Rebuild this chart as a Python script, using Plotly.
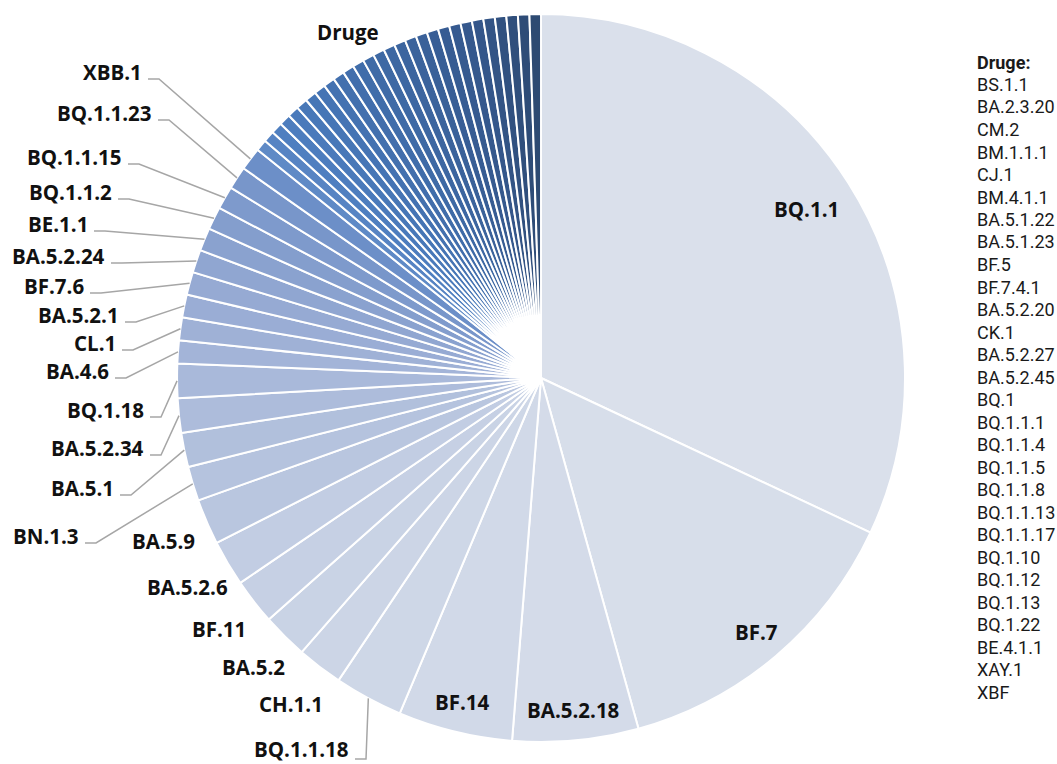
import math
import plotly.graph_objects as go

# ------------------------------------------------------------------ data
main_labels = ["BQ.1.1", "BF.7", "BA.5.2.18", "BF.14", "BQ.1.1.18", "CH.1.1", "BA.5.2",
               "BF.11", "BA.5.2.6", "BA.5.9", "BN.1.3", "BA.5.1", "BA.5.2.34", "BQ.1.18",
               "BA.4.6", "CL.1", "BA.5.2.1", "BF.7.6", "BA.5.2.24", "BE.1.1", "BQ.1.1.2",
               "BQ.1.1.15", "BQ.1.1.23", "XBB.1"]
main_values = [63, 27, 11, 10, 6, 4, 4, 4, 4, 4, 3, 3, 3, 3,
               2, 2, 2, 2, 2, 2, 2, 2, 2, 2]

other_title = "Druge"
other_labels = ["BS.1.1", "BA.2.3.20", "CM.2", "BM.1.1.1", "CJ.1", "BM.4.1.1", "BA.5.1.22",
                "BA.5.1.23", "BF.5", "BF.7.4.1", "BA.5.2.20", "CK.1", "BA.5.2.27", "BA.5.2.45",
                "BQ.1", "BQ.1.1.1", "BQ.1.1.4", "BQ.1.1.5", "BQ.1.1.8", "BQ.1.1.13", "BQ.1.1.17",
                "BQ.1.10", "BQ.1.12", "BQ.1.13", "BQ.1.22", "BE.4.1.1", "XAY.1", "XBF"]
other_values = [1, 1, 1, 1, 1, 1, 1, 1, 1, 1, 1, 1, 1, 1,
                1, 1, 1, 1, 1, 1, 1, 1, 1, 1, 1, 1, 1, 1]

# ------------------------------------------------------------------ layout / style
W, H = 1057, 764
DOM_X = [0.1675, 0.8562]
DOM_Y = [0.0288, 0.9817]

LABEL_FONT = dict(family="Open Sans, Noto Sans, sans-serif", size=20.5, color="#111111", weight="bold")
LIST_FONT = dict(family="Roboto, sans-serif", size=18, color="#1a1a1a")
LEADER_COLOR = "#a6a6a6"

# colour ramp anchors: (slice index, colour)
RAMP = [(0, "#dae0eb"), (3, "#d1d9e8"), (6, "#c9d3e5"), (8, "#c2cde3"), (9, "#b9c6df"),
        (13, "#a9b9da"), (14, "#a3b4d8"), (17, "#96aad3"), (19, "#8aa2cf"), (22, "#7896ca"),
        (23, "#6c8fc8"), (24, "#5f8ac6"), (26, "#4f7fc0"), (30, "#4676b6"), (38, "#3d67a2"),
        (46, "#34568a"), (51, "#2d4a72")]

# label placement
INSIDE = {"BQ.1.1": 0.865, "BF.7": 0.915, "BA.5.2.18": 0.915, "BF.14": 0.915}
NEAR = {"BA.5.9": 1.13, "BA.5.2.6": 1.13, "BF.11": 1.12, "BA.5.2": 1.12, "CH.1.1": 1.13}
# text right edge / vertical middle (px) for labels joined by a leader line
LEADER = {"XBB.1": (143, 72), "BQ.1.1.23": (153, 113), "BQ.1.1.15": (123, 157),
          "BQ.1.1.2": (113, 192), "BE.1.1": (89, 224), "BA.5.2.24": (106, 256),
          "BF.7.6": (85, 286), "BA.5.2.1": (120, 315), "CL.1": (117, 343),
          "BA.4.6": (110, 371), "BQ.1.18": (145, 410), "BA.5.2.34": (145, 448),
          "BA.5.1": (115, 488), "BN.1.3": (80, 536), "BQ.1.1.18": (350, 749)}
GROUP_LABEL_PX = (348, 32)
LIST_X_PX, LIST_Y0_PX, LIST_STEP_PX = 975, 62, 22.5


def hex2rgb(h):
    h = h.lstrip("#")
    return tuple(int(h[i:i + 2], 16) for i in (0, 2, 4))


def ramp_color(i):
    for (i0, c0), (i1, c1) in zip(RAMP[:-1], RAMP[1:]):
        if i0 <= i <= i1:
            t = 0 if i1 == i0 else (i - i0) / (i1 - i0)
            a, b = hex2rgb(c0), hex2rgb(c1)
            return "rgb(%d,%d,%d)" % tuple(round(a[k] + (b[k] - a[k]) * t) for k in range(3))
    return RAMP[-1][1]


all_labels = main_labels + other_labels
all_values = main_values + other_values
colors = [ramp_color(i) for i in range(len(all_labels))]

fig = go.Figure(go.Pie(
    labels=all_labels, values=all_values, sort=False, direction="clockwise", rotation=0,
    marker=dict(colors=colors, line=dict(color="white", width=2)),
    textinfo="none", hoverinfo="label+value+percent", showlegend=False,
    domain=dict(x=DOM_X, y=DOM_Y),
))

# pie geometry in pixels (derived from the domain)
CX = (DOM_X[0] + DOM_X[1]) / 2 * W
CY = (1 - (DOM_Y[0] + DOM_Y[1]) / 2) * H
R = min((DOM_X[1] - DOM_X[0]) * W, (DOM_Y[1] - DOM_Y[0]) * H) / 2
total = sum(all_values)


def px(x, y):
    return x / W, 1 - y / H


def polar(angle_deg, r):
    a = math.radians(angle_deg)
    return CX + r * math.sin(a), CY - r * math.cos(a)


annotations = []
shapes = []
cum = 0
for lab, val in zip(main_labels, main_values):
    mid = (cum + val / 2) / total * 360
    cum += val
    if lab in INSIDE or lab in NEAR:
        k = INSIDE.get(lab, NEAR.get(lab))
        x, y = polar(mid, R * k)
        xp, yp = px(x, y)
        annotations.append(dict(x=xp, y=yp, xref="paper", yref="paper", text=lab,
                                showarrow=False, xanchor="center", yanchor="middle",
                                font=LABEL_FONT))
    elif lab in LEADER:
        rx, my = LEADER[lab]
        xp, yp = px(rx, my)
        annotations.append(dict(x=xp, y=yp, xref="paper", yref="paper", text=lab,
                                showarrow=False, xanchor="right", yanchor="middle",
                                font=LABEL_FONT, borderpad=0))
        ex, ey = polar(mid, R)
        ly = my + 7 if lab != "BQ.1.1.18" else my + 10
        p0 = px(rx + 5, ly)
        p1 = px(rx + 16, ly)
        p2 = px(ex, ey)
        shapes.append(dict(type="path", xref="paper", yref="paper",
                           path="M %f,%f L %f,%f L %f,%f" % (p0 + p1 + p2),
                           line=dict(color=LEADER_COLOR, width=1.5)))

gx, gy = px(*GROUP_LABEL_PX)
annotations.append(dict(x=gx, y=gy, xref="paper", yref="paper", text=other_title,
                        showarrow=False, xanchor="center", yanchor="middle", font=LABEL_FONT))

# list of the grouped variants
list_lines = [other_title + ":"] + other_labels
for i, t in enumerate(list_lines):
    xp, yp = px(LIST_X_PX, LIST_Y0_PX + i * LIST_STEP_PX)
    f = dict(LIST_FONT)
    if i == 0:
        f["weight"] = "bold"
    annotations.append(dict(x=xp, y=yp, xref="paper", yref="paper", text=t,
                            showarrow=False, xanchor="left", yanchor="middle", font=f))

fig.update_layout(width=W, height=H, margin=dict(l=0, r=0, t=0, b=0),
                  paper_bgcolor="white", plot_bgcolor="white",
                  annotations=annotations, shapes=shapes)

fig.write_html("out.html", config={"displayModeBar": False},
               post_script="document.body.style.margin='0';")
